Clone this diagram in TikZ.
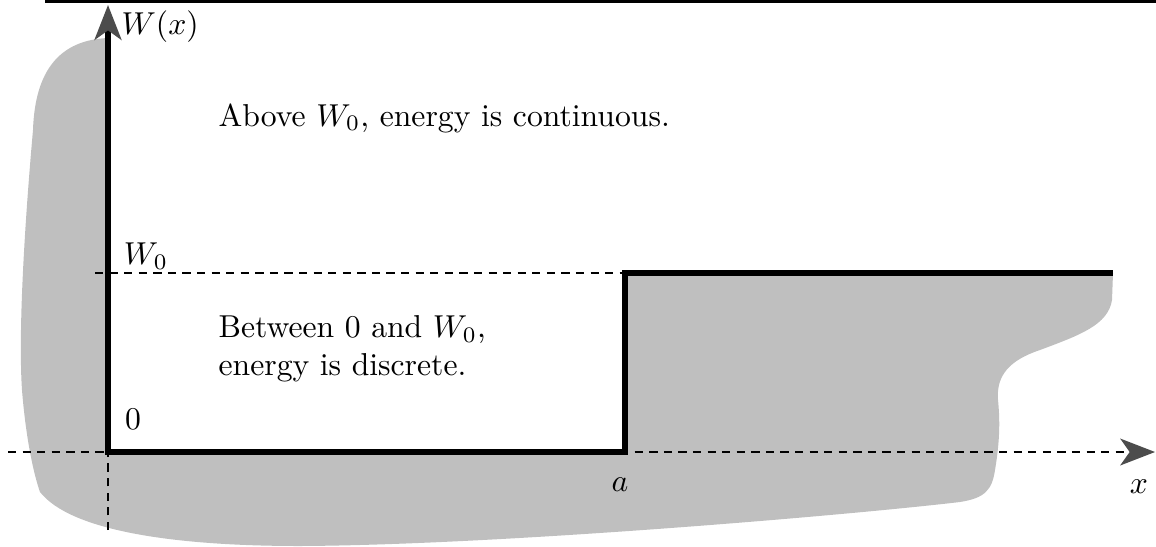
\documentclass[tikz,border=0pt]{standalone}
\usepackage{amsmath}
\usepackage{tikz}
\usetikzlibrary{arrows.meta}
\definecolor{wallgray}{gray}{0.75}
\definecolor{tipgray}{gray}{0.3}
\tikzstyle{axis} = [draw, black, line width=0.5pt, dash pattern=on 2.6pt off 2pt]
\tikzstyle{axisarrow} = [-{Stealth[length=11pt, width=8.5pt, inset=3pt, color=tipgray, fill=tipgray]}]
\tikzstyle{potential} = [draw, black, line width=1.6pt, line join=miter]
\tikzstyle{wall} = [fill=wallgray, draw=none]
\tikzstyle{label} = [inner sep=0pt]

\begin{document}
\begin{tikzpicture}[x=0.0111cm, y=-0.0111cm]
\useasboundingbox (0,0) rectangle (1156,546);
% Place points
\coordinate (O) at (108,452);
\coordinate (A) at (625,452);
\coordinate (B) at (625,273);
\coordinate (E) at (1113,273);
\coordinate (T) at (108,38);
\coordinate (yup) at (108,5);
\coordinate (ydown) at (108,530);
\coordinate (xleft) at (8,452);
\coordinate (xright) at (1155,452);
\coordinate (wleft) at (95,273);
% Shaded region
\path [wall] (T) .. controls (60,40) and (35,70) .. (33,130)
  .. controls (25,220) and (18,330) .. (22,390)
  .. controls (26,440) and (34,475) .. (40,492)
  .. controls (70,530) and (170,546) .. (300,546)
  .. controls (500,545) and (850,515) .. (960,502)
  .. controls (985,498) and (992,490) .. (995,470)
  .. controls (1000,440) and (1000,420) .. (998,400)
  .. controls (996,375) and (1010,360) .. (1040,350)
  .. controls (1080,335) and (1108,325) .. (1112,300)
  -- (E) -- (B) -- (A) -- (O) -- cycle;
% Draw axes
\path [axis] (ydown) -- (O);
\path [axis] (wleft) -- (B);
\path [axis, axisarrow] (xleft) -- (xright);
\path [draw, black, line width=1.6pt, axisarrow] (O) -- (yup);
\path [potential] (T) -- (O) -- (A) -- (B) -- (E);
% Place nodes
\node [label, anchor=west] (wx) at (121,27) {$W(x)$};
\node [label] (wzero) at (146,256) {$W_0$};
\node [label] (zero) at (133,419) {$0$};
\node [label] (a) at (620,485) {$a$};
\node [label] (x) at (1139,487) {$x$};
\node [label, anchor=base west] (above) at (218,126) {Above $W_0$, energy is continuous.};
\node [label, anchor=north west, align=left] (between) at (218,315) {Between $0$ and $W_0$,\\ energy is discrete.};
% Top rule
\draw [line width=1pt] (45,1) -- (1156,1);
\end{tikzpicture}
\end{document}
